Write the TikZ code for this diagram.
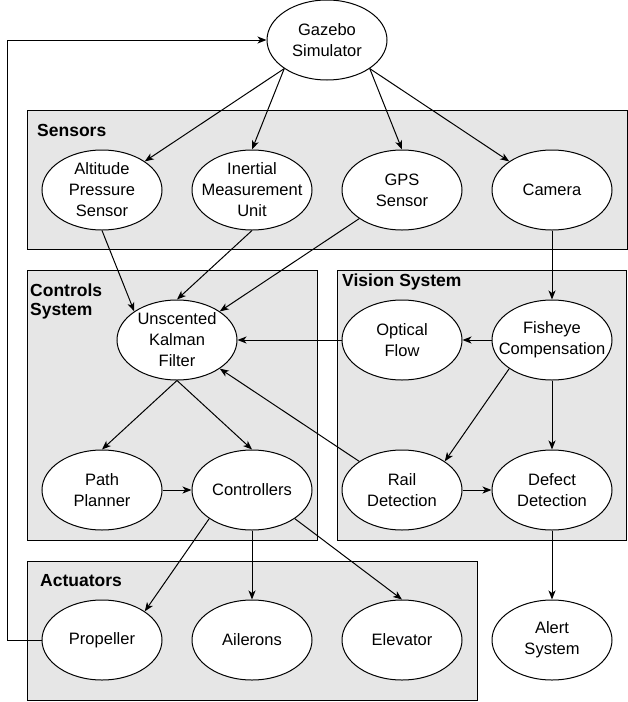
\documentclass[tikz,border=0pt]{standalone}
\usepackage{fontspec}
\setmainfont{Liberation Sans}
\usetikzlibrary{arrows.meta,shapes.geometric}
\definecolor{boxgray}{HTML}{E6E6E6}
\begin{document}
\begin{tikzpicture}[x=1pt,y=-1pt,
  grp/.style={draw=black, fill=boxgray, line width=1pt},
  ell/.style={draw=black, fill=white, ellipse, minimum width=120pt, minimum height=80pt, inner sep=0pt, line width=1pt},
  lbl/.style={font=\fontsize{16.5}{21}\selectfont, align=center, inner sep=0pt},
  ttl/.style={font=\fontsize{17.5}{19}\selectfont\bfseries, anchor=base west, inner sep=0pt, align=left},
  arr/.style={-{Stealth[length=9pt,width=7pt,inset=2.5pt]}, line width=1pt},
]
\useasboundingbox (0,0) rectangle (628,702);
% group boxes
\draw[grp] (27,110) rectangle (627,249);
\draw[grp] (27,270) rectangle (317,540);
\draw[grp] (337,270) rectangle (626,540);
\draw[grp] (27,561) rectangle (477,700);
\node[ttl] (tsens) at (37,136) {Sensors};
\node[ttl] (tctrl) at (30,315) {Controls\\System};
\node[ttl] (tvis) at (342,286) {Vision System};
\node[ttl] (tact) at (40,586) {Actuators};
% nodes
\node[ell] (gz) at (327,40) {};
\node[lbl] (gzt) at (gz) {Gazebo\\Simulator};
\node[ell] (alt) at (102,190) {};
\node[lbl] (altt) at (alt) {Altitude\\Pressure\\Sensor};
\node[ell] (imu) at (252,190) {};
\node[lbl] (imut) at (imu) {Inertial\\Measurement\\Unit};
\node[ell] (gps) at (402,190) {};
\node[lbl] (gpst) at (gps) {GPS\\Sensor};
\node[ell] (cam) at (552,190) {};
\node[lbl] (camt) at (cam) {Camera};
\node[ell] (ukf) at (177,340) {};
\node[lbl] (ukft) at (ukf) {Unscented\\Kalman\\Filter};
\node[ell] (opt) at (402,340) {};
\node[lbl] (optt) at (opt) {Optical\\Flow};
\node[ell] (fish) at (552,340) {};
\node[lbl] (fisht) at (fish) {Fisheye\\Compensation};
\node[ell] (path) at (102,490) {};
\node[lbl] (patht) at (path) {Path\\Planner};
\node[ell] (ctrl) at (252,490) {};
\node[lbl] (ctrlt) at (ctrl) {Controllers};
\node[ell] (rail) at (402,490) {};
\node[lbl] (railt) at (rail) {Rail\\Detection};
\node[ell] (def) at (552,490) {};
\node[lbl] (deft) at (def) {Defect\\Detection};
\node[ell] (prop) at (102,640) {};
\node[lbl] (propt) at (prop) {Propeller};
\node[ell] (ail) at (252,640) {};
\node[lbl] (ailt) at (ail) {Ailerons};
\node[ell] (elev) at (402,640) {};
\node[lbl] (elevt) at (elev) {Elevator};
\node[ell] (alert) at (552,640) {};
\node[lbl] (alertt) at (alert) {Alert\\System};
% edges
\draw[arr] (gz.south west) -- (alt.north east);
\draw[arr] (gz.south west) -- (imu.north);
\draw[arr] (gz.south east) -- (gps.north);
\draw[arr] (gz.south east) -- (cam.north west);
\draw[arr] (alt.south) -- (ukf.north west);
\draw[arr] (imu.south) -- (ukf.north);
\draw[arr] (gps.south west) -- (ukf.north east);
\draw[arr] (cam.south) -- (fish.north);
\draw[arr] (fish.west) -- (opt.east);
\draw[arr] (opt.west) -- (ukf.east);
\draw[arr] (fish.south west) -- (rail.north east);
\draw[arr] (fish.south) -- (def.north);
\draw[arr] (rail.east) -- (def.west);
\draw[arr] (rail.north west) -- (ukf.south east);
\draw[arr] (ukf.south) -- (path.north);
\draw[arr] (ukf.south) -- (ctrl.north);
\draw[arr] (path.east) -- (ctrl.west);
\draw[arr] (ctrl.south west) -- (prop.north east);
\draw[arr] (ctrl.south) -- (ail.north);
\draw[arr] (ctrl.south east) -- (elev.north);
\draw[arr] (def.south) -- (alert.north);
\draw[arr] (prop.west) -- ++(-34,0) |- (gz.west);
\end{tikzpicture}
\end{document}
